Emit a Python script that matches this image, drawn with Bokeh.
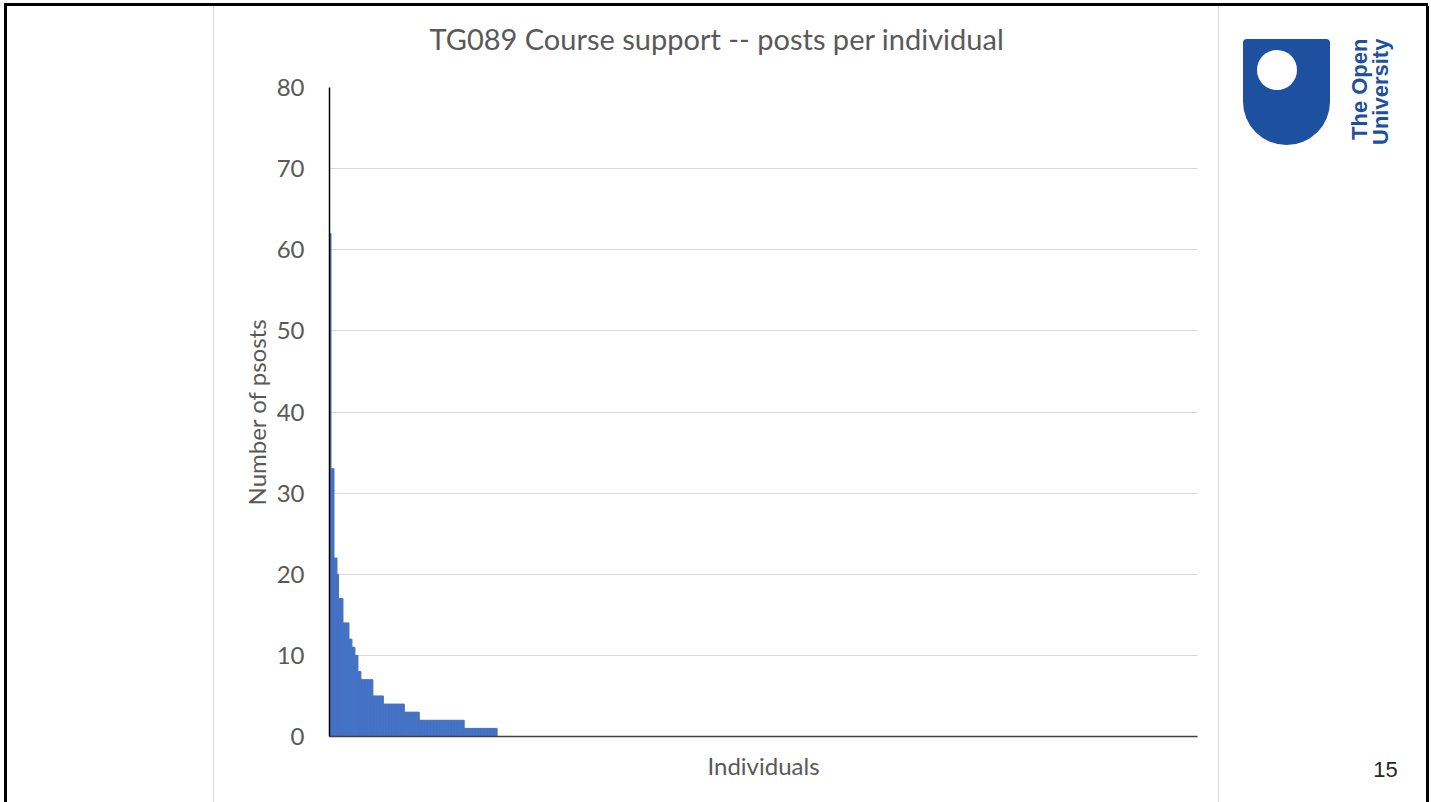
import numpy as np
from bokeh.plotting import figure
from bokeh.layouts import row, column
from bokeh.models import Range1d, FixedTicker, ColumnDataSource, Div, Title
from bokeh.embed import file_html
from bokeh.resources import INLINE

# ---------------- data ----------------
title_text = "TG089 Course support -- posts per individual"
y_label = "Number of psosts"
x_label = "Individuals"
y_ticks = [0, 10, 20, 30, 40, 50, 60, 70, 80]
# posts per individual, read as "level" and "how many individuals at that level"
post_levels = [62, 33, 22, 20, 17, 14, 12, 11, 10, 8, 7, 5, 4, 3, 2, 1, 0]
individuals_at_level = [1, 2, 2, 1, 3, 4, 2, 2, 2, 2, 8, 7, 14, 10, 30, 22, 468]
page_number = "15"
logo_lines = ["The Open", "University"]

posts = np.repeat(post_levels, individuals_at_level)
idx = np.arange(1, len(posts) + 1)
nz = posts > 0
src = ColumnDataSource(dict(x=idx[nz], top=posts[nz]))

# ---------------- styles / layout ----------------
H = 796                 # height of the main row (page y 6 .. 802)
BAR_BLUE = "#4472C4"
GREY_TXT = "#595959"
OU_BLUE = "#1e50a0"
FONT = "Lato"


def box(left, top, w, h, bg, extra=""):
    return (f'<div style="position:absolute;left:{left}px;top:{top}px;width:{w}px;'
            f'height:{h}px;background:{bg};{extra}"></div>')


def vtext(left, top, txt, size, color):
    return (f'<div style="position:absolute;left:{left}px;top:{top}px;white-space:nowrap;'
            f'font-family:\'Liberation Sans\';font-weight:bold;font-size:{size}px;'
            f'line-height:{size}px;color:{color};transform:rotate(-90deg);'
            f'transform-origin:left top;">{txt}</div>')


# top slide border
top_div = Div(width=1424, height=3, margin=(3, 0, 0, 4),
              styles={"background-color": "black"})

# left blank panel with slide border and panel edge
left_html = ('<div style="position:relative;width:214px;height:%dpx;">' % H
             + box(4, 0, 3, H, "black") + box(213, 0, 1, H, "#d9d9d9") + '</div>')
left_div = Div(text=left_html, width=214, height=H, margin=0)

# main chart
p = figure(width=1004, height=H, output_backend="svg", toolbar_location=None,
           x_range=Range1d(0.5, len(posts) + 0.5), y_range=Range1d(0, y_ticks[-1]),
           min_border_left=115, min_border_right=21, min_border_top=81,
           min_border_bottom=66, title=None)
p.vbar(x="x", top="top", width=1.0, source=src, fill_color=BAR_BLUE,
       line_color=BAR_BLUE, line_width=1)
p.outline_line_color = None
p.background_fill_color = "white"
p.border_fill_color = "white"

# spacer (nearest the frame) then the chart title above it
p.add_layout(Title(text=" ", text_font_size="10px", standoff=19), "above")
p.add_layout(Title(text=title_text, text_font=FONT, text_font_size="29px",
                   text_font_style="normal", text_color=GREY_TXT, align="left",
                   offset=100, standoff=0, vertical_align="bottom"), "above")

p.xgrid.visible = False
p.ygrid.ticker = FixedTicker(ticks=y_ticks)
p.ygrid.grid_line_color = "#d9d9d9"
p.ygrid.grid_line_width = 1

xa = p.xaxis[0]
xa.ticker = FixedTicker(ticks=[])
xa.major_tick_out = 0
xa.major_tick_in = 0
xa.minor_tick_out = 0
xa.minor_tick_in = 0
xa.axis_line_color = "#404040"
xa.axis_line_width = 1.5
xa.axis_label = x_label
xa.axis_label_text_font = FONT
xa.axis_label_text_font_size = "24px"
xa.axis_label_text_font_style = "normal"
xa.axis_label_text_color = GREY_TXT
xa.axis_label_standoff = 14

ya = p.yaxis[0]
ya.ticker = FixedTicker(ticks=y_ticks)
ya.major_tick_out = 0
ya.major_tick_in = 0
ya.minor_tick_out = 0
ya.minor_tick_in = 0
ya.axis_line_color = "black"
ya.axis_line_width = 1.5
ya.major_label_text_font = FONT
ya.major_label_text_font_size = "24px"
ya.major_label_text_color = GREY_TXT
ya.major_label_standoff = 25
ya.axis_label = y_label
ya.axis_label_text_font = FONT
ya.axis_label_text_font_size = "24px"
ya.axis_label_text_font_style = "normal"
ya.axis_label_text_color = GREY_TXT
ya.axis_label_standoff = 3

# right panel with logo, page number and slide border
right_html = ('<div style="position:relative;width:213px;height:%dpx;">' % H
              + box(0, 0, 1, H, "#d9d9d9")
              + box(208, 0, 3, H, "black")
              + box(25.3, 33.3, 86.7, 105.7, OU_BLUE,
                    "border-radius:4px 4px 43.35px 43.35px;")
              + box(38.7, 44, 40, 40, "white", "border-radius:50%;")
              + vtext(130.8, 134, logo_lines[0], 22, OU_BLUE)
              + vtext(152.1, 139, logo_lines[1], 22, OU_BLUE)
              + '<div style="position:absolute;left:145px;top:753px;width:45px;'
                'text-align:center;font-family:\'Liberation Sans\';font-size:22px;'
                'line-height:22px;color:#262626;">%s</div>' % page_number
              + '</div>')
right_div = Div(text=right_html, width=213, height=H, margin=0)

layout = column(top_div, row(left_div, p, right_div))

open("out.html", "w").write(file_html(layout, INLINE))
